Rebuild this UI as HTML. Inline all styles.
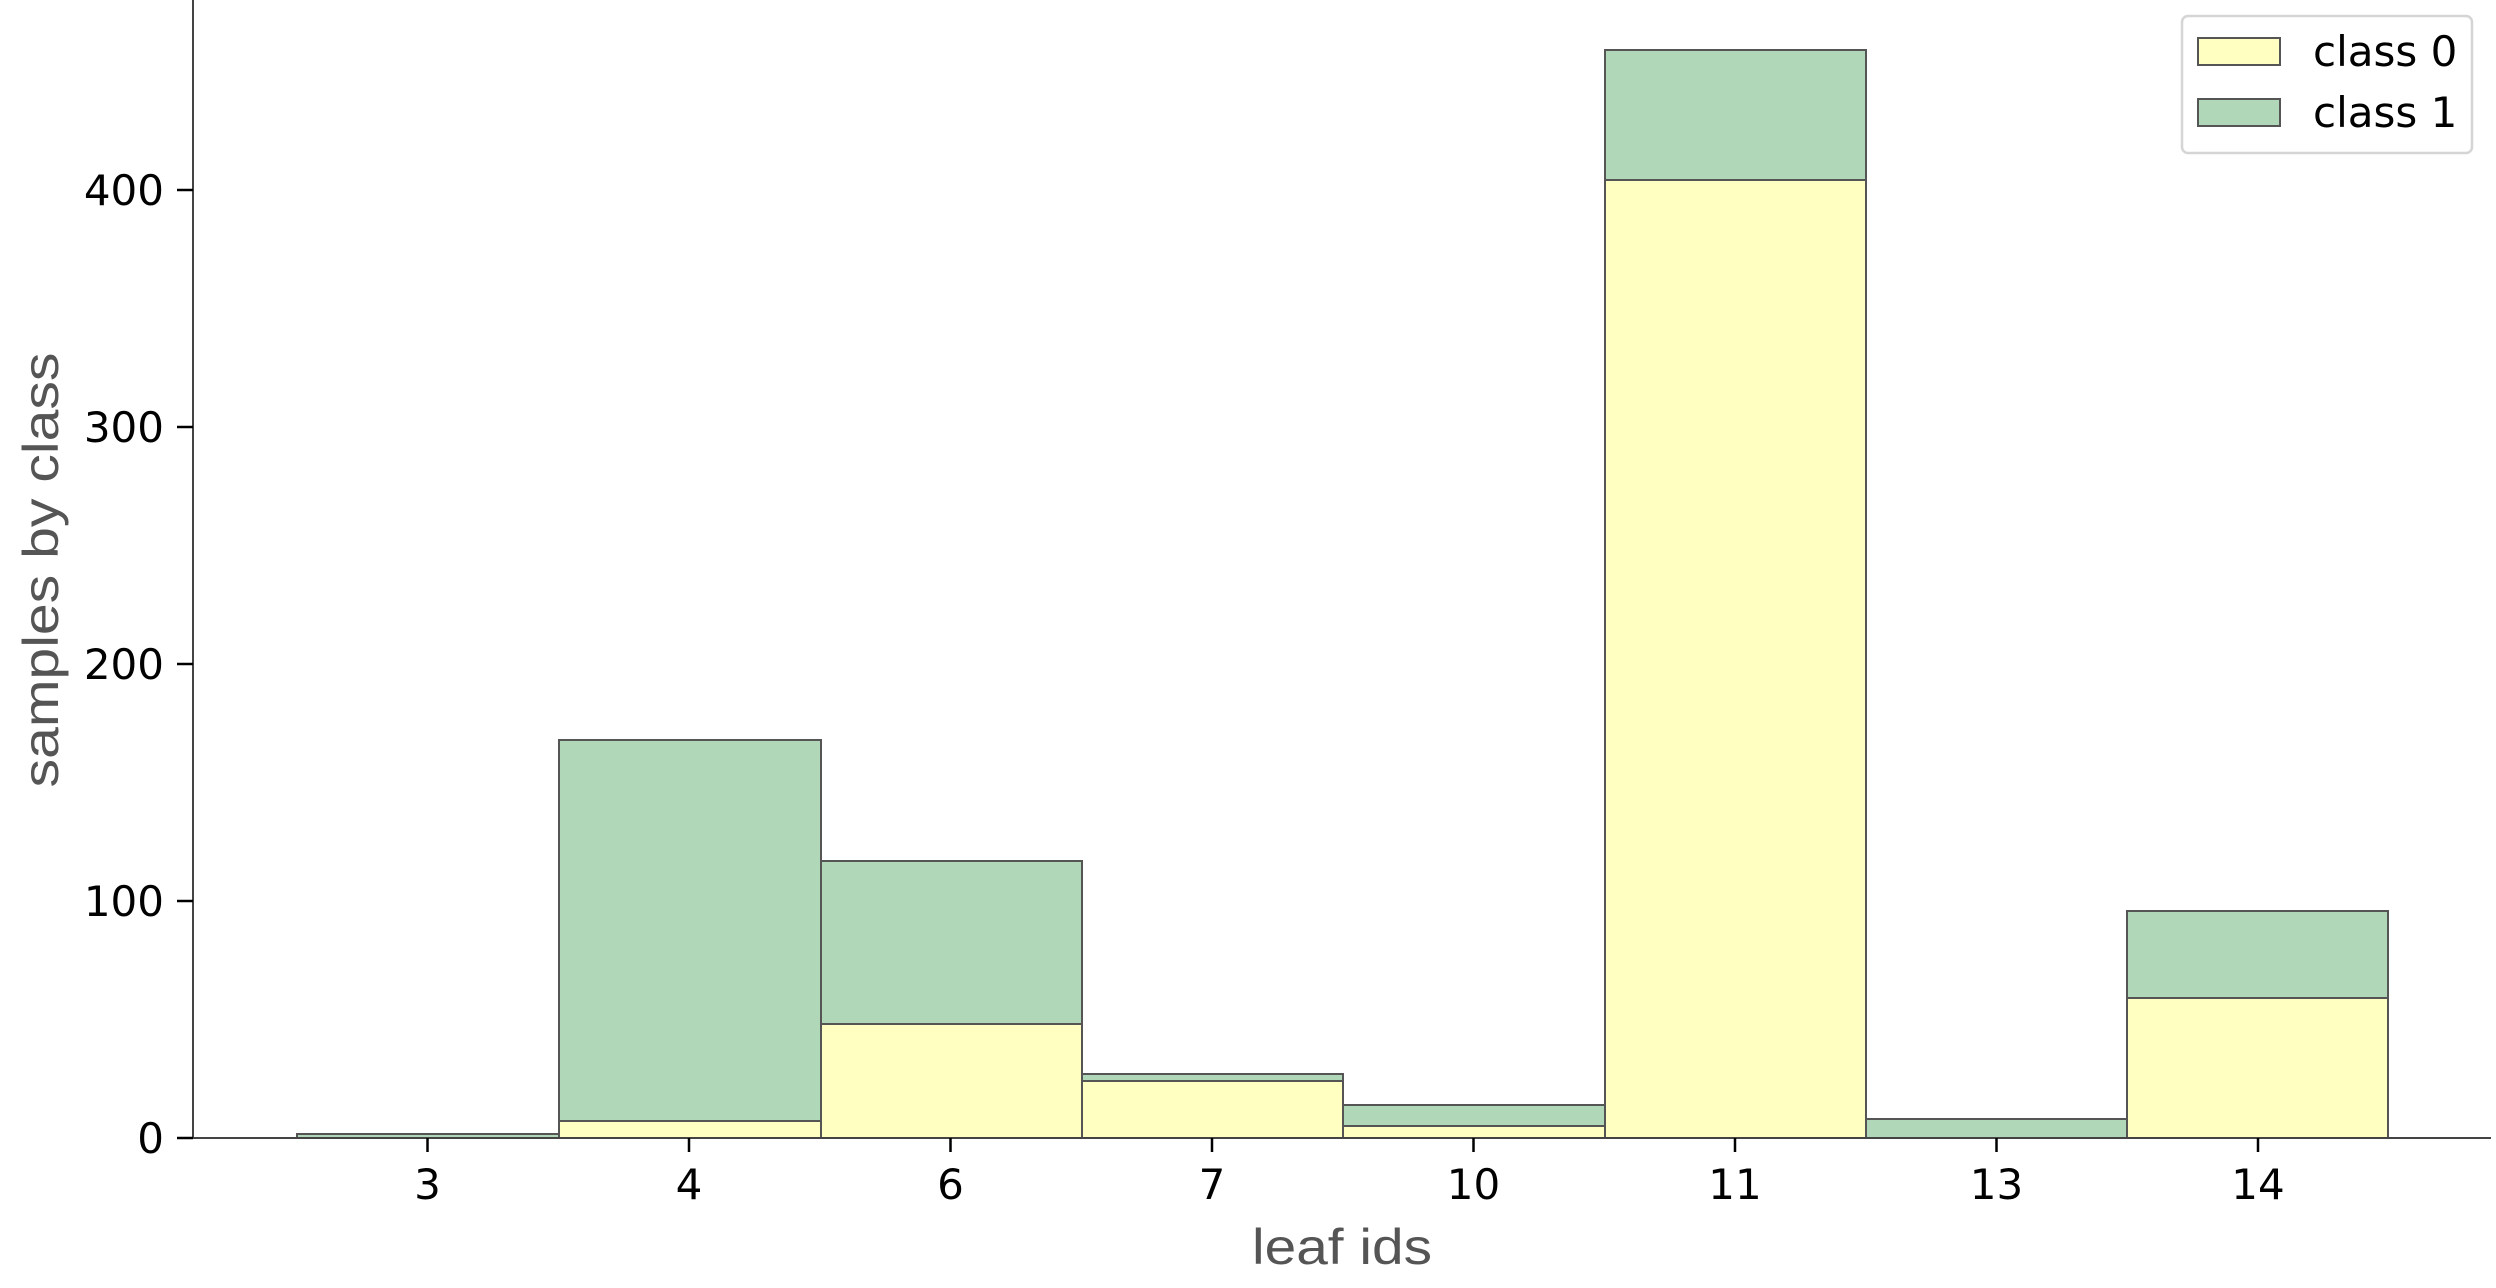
<!DOCTYPE html>
<html><head><meta charset="utf-8"><style>html,body{margin:0;padding:0;background:#fff}svg{display:block}</style></head>
<body>
<svg width="2496" height="1288" viewBox="0 0 2496 1288" xmlns="http://www.w3.org/2000/svg">
<g stroke="#555" stroke-width="2">
<rect x="297" y="1134" width="262" height="4" fill="#b0d8b8"/>
<rect x="559" y="1121" width="262" height="17" fill="#ffffc2"/>
<rect x="559" y="740" width="262" height="381" fill="#b0d8b8"/>
<rect x="821" y="1024" width="261" height="114" fill="#ffffc2"/>
<rect x="821" y="861" width="261" height="163" fill="#b0d8b8"/>
<rect x="1082" y="1081" width="261" height="57" fill="#ffffc2"/>
<rect x="1082" y="1074" width="261" height="7" fill="#b0d8b8"/>
<rect x="1343" y="1126" width="262" height="12" fill="#ffffc2"/>
<rect x="1343" y="1105" width="262" height="21" fill="#b0d8b8"/>
<rect x="1605" y="180" width="261" height="958" fill="#ffffc2"/>
<rect x="1605" y="50" width="261" height="130" fill="#b0d8b8"/>
<rect x="1866" y="1119" width="261" height="19" fill="#b0d8b8"/>
<rect x="2127" y="998" width="261" height="140" fill="#ffffc2"/>
<rect x="2127" y="911" width="261" height="87" fill="#b0d8b8"/>
</g>
<g stroke="#444" stroke-width="2" fill="none">
<line x1="193" y1="0" x2="193" y2="1138"/>
<line x1="193" y1="1138" x2="2491" y2="1138"/>
</g>
<g stroke="#000" stroke-width="2.5">
<line x1="177" y1="1138" x2="193" y2="1138"/>
<line x1="177" y1="901" x2="193" y2="901"/>
<line x1="177" y1="664" x2="193" y2="664"/>
<line x1="177" y1="427" x2="193" y2="427"/>
<line x1="177" y1="190" x2="193" y2="190"/>
<line x1="427.5" y1="1138" x2="427.5" y2="1152"/>
<line x1="689" y1="1138" x2="689" y2="1152"/>
<line x1="950.5" y1="1138" x2="950.5" y2="1152"/>
<line x1="1212" y1="1138" x2="1212" y2="1152"/>
<line x1="1473.5" y1="1138" x2="1473.5" y2="1152"/>
<line x1="1735" y1="1138" x2="1735" y2="1152"/>
<line x1="1996.5" y1="1138" x2="1996.5" y2="1152"/>
<line x1="2258" y1="1138" x2="2258" y2="1152"/>
</g>
<g font-family="DejaVu Sans, Liberation Sans, sans-serif" font-size="42" fill="#000">
<g text-anchor="end">
<text x="164" y="1153">0</text>
<text x="164" y="916">100</text>
<text x="164" y="679">200</text>
<text x="164" y="442">300</text>
<text x="164" y="205">400</text>
</g>
<g text-anchor="middle">
<text x="427.5" y="1199">3</text>
<text x="689" y="1199">4</text>
<text x="950.5" y="1199">6</text>
<text x="1212" y="1199">7</text>
<text x="1473.5" y="1199">10</text>
<text x="1735" y="1199">11</text>
<text x="1996.5" y="1199">13</text>
<text x="2258" y="1199">14</text>
</g>
</g>
<g font-family="Liberation Sans, sans-serif" font-size="50" fill="#555">
<text x="1342" y="1264" text-anchor="middle" textLength="180" lengthAdjust="spacingAndGlyphs">leaf ids</text>
<text transform="translate(58,570) rotate(-90)" text-anchor="middle" textLength="435" lengthAdjust="spacingAndGlyphs">samples by class</text>
</g>
<rect x="2182" y="16" width="290" height="137" rx="6" fill="#fff" stroke="#d5d5d5" stroke-width="2.5"/>
<rect x="2198" y="38" width="82" height="27" fill="#ffffc2" stroke="#555" stroke-width="2"/>
<rect x="2198" y="99" width="82" height="27" fill="#b0d8b8" stroke="#555" stroke-width="2"/>
<g font-family="DejaVu Sans, Liberation Sans, sans-serif" font-size="42" fill="#000">
<text x="2313" y="66">class 0</text>
<text x="2313" y="127">class 1</text>
</g>
</svg>
</body></html>
